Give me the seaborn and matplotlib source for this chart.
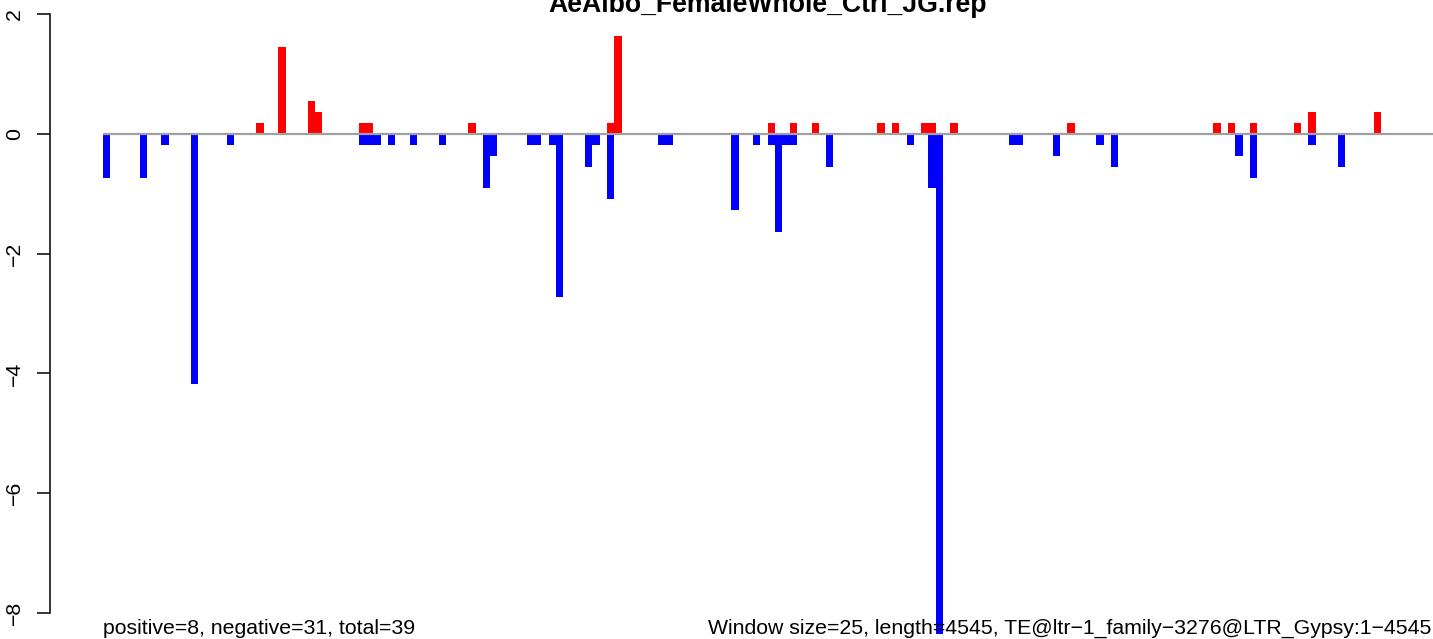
import matplotlib
matplotlib.use("Agg")
import matplotlib.pyplot as plt
import seaborn as sns
import pandas as pd

sns.set_style("white")
plt.rcParams['font.family'] = ['Liberation Sans', 'DejaVu Sans']

# ---- data ----
window_size = 25
seq_length = 4545
title = "AeAlbo_FemaleWhole_Ctrl_JG.rep"
left_note = "positive=8, negative=31, total=39"
right_note = "Window size=25, length=4545, TE@ltr\u22121_family\u22123276@LTR_Gypsy:1\u22124545"

pos_windows = [21, 24, 28, 29, 35, 36, 50, 69, 70, 91, 94, 97, 106, 108, 112, 113,
               116, 132, 152, 154, 157, 163, 165, 174]
pos_values = [0.18, 1.45, 0.55, 0.36, 0.18, 0.18, 0.18, 0.18, 1.64, 0.18, 0.18, 0.18,
              0.18, 0.18, 0.18, 0.18, 0.18, 0.18, 0.18, 0.18, 0.18, 0.18, 0.36, 0.36]

neg_windows = [0, 5, 8, 12, 17, 35, 36, 37, 39, 42, 46, 52, 53, 58, 59, 61, 62, 66, 67,
               69, 76, 77, 86, 89, 91, 92, 93, 94, 99, 110, 113, 114, 124, 125, 130,
               136, 138, 155, 157, 165, 169]
neg_values = [-0.73, -0.73, -0.18, -4.18, -0.18, -0.18, -0.18, -0.18, -0.18, -0.18,
              -0.18, -0.91, -0.36, -0.18, -0.18, -0.18, -2.73, -0.55, -0.18, -1.09,
              -0.18, -0.18, -1.27, -0.18, -0.18, -1.64, -0.18, -0.18, -0.55, -0.18,
              -0.91, -8.36, -0.18, -0.18, -0.36, -0.18, -0.55, -0.36, -0.73, -0.18,
              -0.55]

y_ticks = [-8, -6, -4, -2, 0, 2]
y_tick_labels = ["\u22128", "\u22126", "\u22124", "\u22122", "0", "2"]

df = pd.DataFrame({
    "pos": [w * window_size + window_size / 2 for w in pos_windows + neg_windows],
    "value": pos_values + neg_values,
    "sign": ["pos"] * len(pos_windows) + ["neg"] * len(neg_windows),
})

# ---- figure / layout ----
W, H = 1433, 639
fig = plt.figure(figsize=(W / 100, H / 100), dpi=100)
left_px = 50
ax = fig.add_axes([left_px / W, 0, 1 - left_px / W, 1])

sns.barplot(data=df, x="pos", y="value", hue="sign",
            palette={"pos": "#ff0000", "neg": "#0000ff"}, saturation=1,
            dodge=False, native_scale=True, width=1.0, errorbar=None,
            linewidth=0, edgecolor="none", legend=False, ax=ax)

px_per_bp = 7.305 / window_size
zero_px = 103
x_left = -(zero_px - left_px) / px_per_bp
x_right = (W - zero_px) / px_per_bp
ax.set_xlim(x_left, x_right)

px_per_unit = 59.85
y0_px = 134
ax.set_ylim(-(H - y0_px) / px_per_unit, y0_px / px_per_unit)

# zero line
ax.plot([0, x_right], [0, 0], color="#a0a0a0", lw=1.6, zorder=5, solid_capstyle="butt")

# axes styling
for s in ["top", "right", "bottom"]:
    ax.spines[s].set_visible(False)
ax.spines["left"].set_bounds(-8, 2)
ax.spines["left"].set_linewidth(1.1)
ax.spines["left"].set_color("black")
ax.set_xticks([])
ax.set_yticks(y_ticks)
ax.set_yticklabels(y_tick_labels, rotation=90, va="center", fontsize=15.3)
ax.tick_params(axis="y", direction="out", length=9.5, width=1.1, pad=9, colors="black",
               left=True)
ax.set_xlabel("")
ax.set_ylabel("")
ax.grid(False)

# texts
text_base = -(634 - y0_px) / px_per_unit
ax.text(0, text_base, left_note, ha="left", va="baseline", fontsize=15.3, color="black")
ax.text(seq_length, text_base, right_note, ha="right", va="baseline", fontsize=15.3,
        color="black")
fig.text(768 / W, 1 - 12 / H, title, ha="center", va="baseline", fontsize=19.2,
         fontweight="bold", color="black")

fig.savefig("out.png", dpi=100)
